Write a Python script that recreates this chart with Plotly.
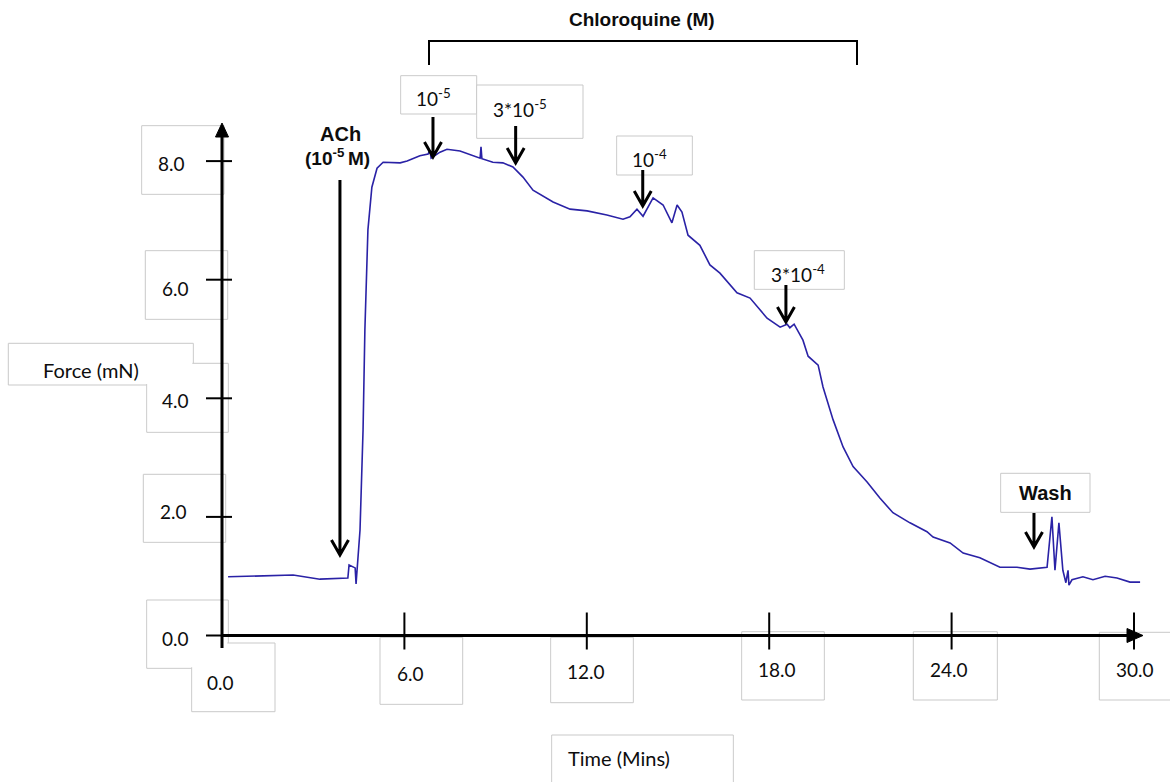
import plotly.graph_objects as go

W, H = 1170, 782
# axis calibration: pixel of the origin and pixels per unit
X0_PX, Y0_PX = 222.0, 635.5
PX_PER_MIN, PX_PER_MN = 30.4, 59.3

# ---- recorded force trace ----
time_min = [0.20, 1.25, 2.34, 3.22, 4.14, 4.18, 4.38, 4.41, 4.54, 4.64,
            4.70, 4.80, 4.93, 5.10, 5.30, 5.86, 6.09, 6.51, 6.78, 6.84,
            6.88, 7.17, 7.40, 7.83, 8.26, 8.49, 8.52, 8.55, 8.91, 9.24,
            9.57, 9.90, 10.23, 10.89, 11.45, 12.01, 12.66, 13.19, 13.42, 13.65,
            13.85, 14.18, 14.51, 14.80, 14.97, 15.13, 15.33, 15.72, 16.05, 16.38,
            16.94, 17.37, 17.93, 18.36, 18.59, 18.68, 18.82, 19.11, 19.28, 19.61,
            19.77, 20.10, 20.43, 20.76, 21.22, 21.64, 22.07, 22.63, 23.19, 23.39,
            23.95, 24.38, 24.93, 25.59, 26.15, 26.58, 27.14, 27.17, 27.30, 27.40,
            27.53, 27.66, 27.76, 27.83, 27.86, 27.96, 28.32, 28.65, 29.05, 29.44,
            29.87, 30.20]
force_mN = [0.99, 1.00, 1.02, 0.95, 0.97, 1.19, 1.14, 0.87, 1.78, 3.47,
            5.15, 6.84, 7.56, 7.88, 7.98, 7.97, 8.00, 8.09, 8.12, 8.18,
            8.05, 8.15, 8.20, 8.17, 8.09, 8.05, 8.24, 8.04, 7.98, 7.97,
            7.90, 7.73, 7.51, 7.31, 7.19, 7.16, 7.09, 7.02, 7.06, 7.19,
            7.07, 7.38, 7.26, 6.96, 7.26, 7.14, 6.75, 6.58, 6.25, 6.11,
            5.78, 5.69, 5.35, 5.20, 5.25, 5.19, 5.25, 4.98, 4.71, 4.56,
            4.19, 3.64, 3.18, 2.85, 2.59, 2.32, 2.07, 1.90, 1.75, 1.66,
            1.56, 1.39, 1.31, 1.15, 1.15, 1.12, 1.15, 1.32, 2.00, 1.10,
            1.90, 1.10, 0.89, 1.10, 0.85, 0.94, 0.99, 0.94, 1.00, 0.97,
            0.90, 0.90]

# ---- axes ----
x_ticks = [0, 6, 12, 18, 24, 30]
x_tick_labels = ["0.0", "6.0", "12.0", "18.0", "24.0", "30.0"]
y_ticks = [0, 2, 4, 6, 8]
y_tick_labels = ["0.0", "2.0", "4.0", "6.0", "8.0"]

# ---- drug additions ----
ach_time = 3.88
dose_times = [6.94, 9.66, 13.84, 18.55]
dose_labels = ["10<sup>-5</sup>", "3*10<sup>-5</sup>", "10<sup>-4</sup>", "3*10<sup>-4</sup>"]
wash_time = 26.71


def xd(px):
    return (px - X0_PX) / PX_PER_MIN


def yd(py):
    return (Y0_PX - py) / PX_PER_MN


def dx(p):
    return p / PX_PER_MIN


def dy(p):
    return p / PX_PER_MN


REG = "Lato"
BOLD = "Liberation Sans"
INK = "#0d0d0d"
BOX = "#c9c9c9"

fig = go.Figure()
fig.add_trace(go.Scatter(x=time_min, y=force_mN, mode="lines",
                         line=dict(color="#2a22a6", width=1.6),
                         hoverinfo="skip", showlegend=False))

shapes = []
annotations = []

# label boxes (outlines merge where boxes overlap)
boxes = [
    (141.7, 125.7, 224.0, 194.3), (145.3, 250.7, 227.7, 319.3),
    (8.3, 343.3, 193.3, 385.0), (146.7, 363.3, 228.3, 432.3),
    (143.3, 474.3, 225.7, 542.3), (146.7, 600.0, 228.3, 668.3),
    (191.7, 643.0, 275.0, 711.7), (380.0, 637.3, 462.7, 704.3),
    (550.7, 637.3, 633.3, 702.7), (741.7, 631.7, 824.3, 700.0),
    (913.3, 631.7, 997.3, 700.0), (1099.3, 632.3, 1180.0, 700.0),
    (551.7, 735.0, 733.3, 800.0), (400.7, 75.7, 476.7, 114.0),
    (476.7, 85.0, 583.0, 138.3), (616.7, 136.0, 692.3, 175.0),
    (754.3, 250.7, 844.3, 289.3), (1000.7, 473.3, 1090.0, 512.3),
]
for x0, y0, x1, y1 in boxes:
    shapes.append(dict(type="rect", x0=xd(x0), x1=xd(x1), y0=yd(y0), y1=yd(y1),
                       line=dict(color=BOX, width=1), fillcolor="white", layer="below"))
for x0, y0, x1, y1 in boxes:
    shapes.append(dict(type="rect", x0=xd(x0 + 1), x1=xd(x1 - 1), y0=yd(y0 + 1), y1=yd(y1 - 1),
                       line=dict(width=0), fillcolor="white", layer="below"))

# axis lines with arrow heads
ax_line = dict(color="black", width=3)
shapes.append(dict(type="line", x0=0, x1=xd(1130), y0=0, y1=0, line=ax_line, layer="above"))
shapes.append(dict(type="line", x0=0, x1=0, y0=yd(648), y1=yd(133), line=ax_line, layer="above"))
shapes.append(dict(type="path", layer="above", fillcolor="black", line=dict(color="black", width=1),
                   path=f"M {xd(1127)},{dy(7)} L {xd(1143)},0 L {xd(1127)},{-dy(7)} Z"))
shapes.append(dict(type="path", layer="above", fillcolor="black", line=dict(color="black", width=1),
                   path=f"M {-dx(6.5)},{yd(137)} L 0,{yd(123)} L {dx(6.5)},{yd(137)} Z"))

# tick marks
tick_line = dict(color="black", width=2)
for t in y_ticks:
    shapes.append(dict(type="line", x0=-dx(16), x1=dx(10), y0=t, y1=t, line=tick_line, layer="above"))
for t in x_ticks[1:]:
    shapes.append(dict(type="line", x0=t, x1=t, y0=dy(23), y1=-dy(14), line=tick_line, layer="above"))

# tick labels
y_label_px = {8: (171, 163), 6: (175, 288), 4: (175, 400), 2: (173.3, 511), 0: (175, 638.5)}
for t, lab in zip(y_ticks, y_tick_labels):
    px, py = y_label_px[t]
    annotations.append(dict(x=xd(px), y=yd(py), text=lab, showarrow=False,
                            font=dict(family=REG, size=19, color=INK)))
x_label_px = [(220, 682), (410, 673.3), (586, 671.7), (776.7, 669.3), (949.3, 669.3), (1135, 669)]
for lab, (px, py) in zip(x_tick_labels, x_label_px):
    annotations.append(dict(x=xd(px), y=yd(py), text=lab, showarrow=False,
                            font=dict(family=REG, size=19, color=INK)))

# axis titles
annotations.append(dict(x=xd(91.3), y=yd(370), text="Force (mN)", showarrow=False,
                        font=dict(family=REG, size=20, color=INK)))
annotations.append(dict(x=xd(619.3), y=yd(757.7), text="Time (Mins)", showarrow=False,
                        font=dict(family=REG, size=20, color=INK)))


def down_arrow(x, py_top, py_tip):
    xl, xr = x - dx(8.5), x + dx(8.5)
    yt, yp, yc = yd(py_top), yd(py_tip), yd(py_tip - 15)
    shapes.append(dict(type="path", layer="above", line=dict(color="black", width=3),
                       path=f"M {x},{yt} L {x},{yp} M {xl},{yc} L {x},{yp} L {xr},{yc}"))


# ACh addition
down_arrow(ach_time, 180, 555)
annotations.append(dict(x=xd(340), y=yd(134), text="ACh", showarrow=False,
                        font=dict(family=BOLD, size=20, color=INK, weight="bold")))
annotations.append(dict(x=xd(337), y=yd(157), text="(10<sup>-5 </sup>M)", showarrow=False,
                        font=dict(family=BOLD, size=19, color=INK, weight="bold")))

# chloroquine additions
dose_arrow_px = [(117, 157), (126, 163), (170, 206), (285, 322)]
dose_text_px = [(433, 97.5), (520, 108), (649.7, 158), (798.3, 273)]
for t, lab, (top, tip), (tx, ty) in zip(dose_times, dose_labels, dose_arrow_px, dose_text_px):
    down_arrow(t, top, tip)
    annotations.append(dict(x=xd(tx), y=yd(ty), text=lab, showarrow=False,
                            font=dict(family=REG, size=19, color=INK)))

# wash
down_arrow(wash_time, 513, 547)
annotations.append(dict(x=xd(1045), y=yd(493), text="Wash", showarrow=False,
                        font=dict(family=BOLD, size=20, color=INK, weight="bold")))

# chloroquine bracket
shapes.append(dict(type="path", layer="above", line=dict(color="black", width=2),
                   path=f"M {xd(429)},{yd(65)} L {xd(429)},{yd(41)} L {xd(857)},{yd(41)} L {xd(857)},{yd(65)}"))
annotations.append(dict(x=xd(642), y=yd(19), text="Chloroquine (M)", showarrow=False,
                        font=dict(family=BOLD, size=19, color=INK, weight="bold")))

fig.update_layout(
    width=W, height=H,
    margin=dict(l=0, r=0, t=0, b=0),
    paper_bgcolor="white", plot_bgcolor="white",
    xaxis=dict(range=[-X0_PX / PX_PER_MIN, (W - X0_PX) / PX_PER_MIN], visible=False, fixedrange=True),
    yaxis=dict(range=[-(H - Y0_PX) / PX_PER_MN, Y0_PX / PX_PER_MN], visible=False, fixedrange=True),
    shapes=shapes,
    annotations=annotations,
    showlegend=False,
)

fig.write_html("out.html")
